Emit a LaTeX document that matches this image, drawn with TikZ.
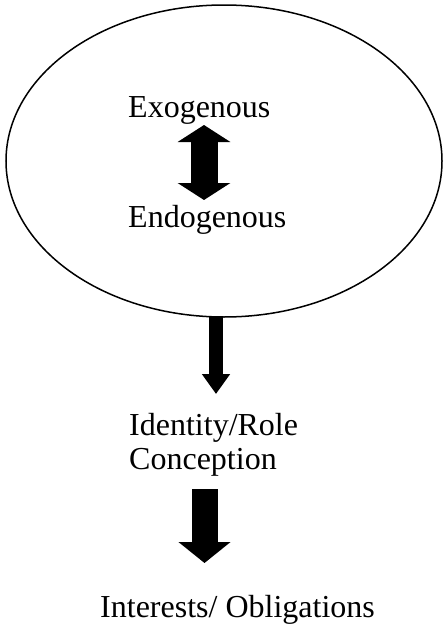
\documentclass[tikz,border=0pt]{standalone}
\usepackage{fontspec}
\setmainfont{Liberation Serif}
\usetikzlibrary{arrows.meta,shapes.geometric}
\begin{document}
\begin{tikzpicture}[x=1pt,y=-1pt,
  lbl/.style={inner sep=0pt,anchor=base west,font=\fontsize{32}{34}\selectfont}]
\useasboundingbox (0,0) rectangle (442,637);
\node[draw,line width=1.5pt,ellipse,inner sep=0pt,minimum width=436pt,minimum height=312pt] (ell) at (224,161) {};
\node[lbl] (exo) at (128,117) {Exogenous};
\node[lbl] (endo) at (128,227) {Endogenous};
\node[lbl,align=left] (ident) at (129,469) {Identity/Role\\Conception};
\node[lbl] (inter) at (100,617) {Interests/ Obligations};
% double arrow between Exogenous and Endogenous
\coordinate (d1s) at (204,125);
\coordinate (d1e) at (204,200);
\draw[line width=27pt,{Triangle[width=52pt,length=17pt]}-{Triangle[width=52pt,length=17pt]}] (d1s) -- (d1e);
% arrow from the ellipse to Identity/Role
\coordinate (a1s) at (216,317);
\coordinate (a1e) at (216,394);
\draw[line width=14pt,-{Triangle[width=27pt,length=20pt]}] (a1s) -- (a1e);
% arrow from Conception to Interests
\coordinate (a2s) at (204.5,489);
\coordinate (a2e) at (204.5,563);
\draw[line width=26pt,-{Triangle[width=51pt,length=21pt]}] (a2s) -- (a2e);
\end{tikzpicture}
\end{document}
